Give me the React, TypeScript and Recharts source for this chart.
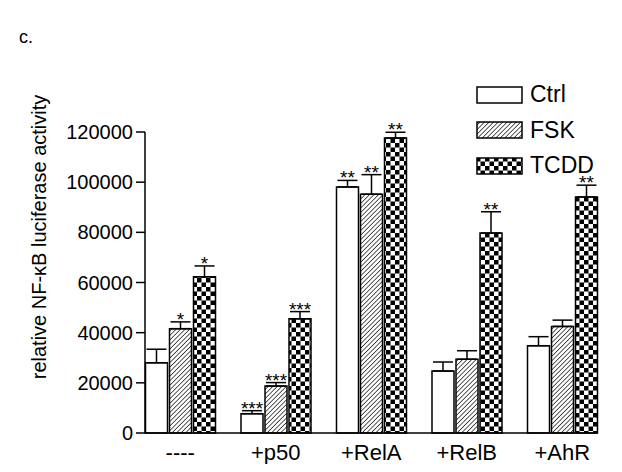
import { BarChart, Bar, XAxis, YAxis, ErrorBar, LabelList } from "recharts";

const groups = ["----", "+p50", "+RelA", "+RelB", "+AhR"];
const ctrl = [28000, 7700, 98100, 24700, 34800];
const ctrlErr = [5400, 1200, 2600, 3600, 3600];
const fsk = [41600, 18700, 95200, 29400, 42500];
const fskErr = [2700, 1400, 7800, 3400, 2500];
const tcdd = [62300, 45500, 117600, 79700, 94100];
const tcddErr = [4300, 2900, 2300, 8500, 4700];
const ctrlSig = ["", "***", "**", "", ""];
const fskSig = ["*", "***", "**", "", ""];
const tcddSig = ["*", "***", "**", "**", "**"];
const yTicks = [0, 20000, 40000, 60000, 80000, 100000, 120000];

const data = groups.map((g, i) => ({
  group: g,
  ctrl: ctrl[i],
  ctrlErr: [0, ctrlErr[i]],
  ctrlSig: ctrlSig[i],
  fsk: fsk[i],
  fskErr: [0, fskErr[i]],
  fskSig: fskSig[i],
  tcdd: tcdd[i],
  tcddErr: [0, tcddErr[i]],
  tcddSig: tcddSig[i],
}));

const FONT = "'Liberation Sans', Arial, sans-serif";

// stars sit above the error bar; height/value gives the scale's px per unit
const sigLabel = (vals: number[], errs: number[]) => (props: any) => {
  const vb = props.viewBox || props;
  const { x, y, width, height } = vb;
  const idx = props.index;
  const text = props.value;
  if (!text || idx == null) return null;
  const pxPerUnit = Math.abs(height) / vals[idx];
  const errTop = y - errs[idx] * pxPerUnit;
  return (
    <text x={x + width / 2} y={errTop + 4} textAnchor="middle" fontSize={19} fontFamily={FONT} fill="#000">
      {text}
    </text>
  );
};

const Patterns = ({ prefix }: { prefix: string }) => (
  <defs>
    <pattern id={`${prefix}hatch`} patternUnits="userSpaceOnUse" width={3.2} height={3.2} patternTransform="rotate(45)">
      <rect width={3.2} height={3.2} fill="#fff" />
      <line x1={0} y1={0} x2={0} y2={3.2} stroke="#000" strokeWidth={1.3} />
    </pattern>
    <pattern id={`${prefix}check`} patternUnits="userSpaceOnUse" width={9} height={9}>
      <rect width={9} height={9} fill="#fff" />
      <rect width={4.5} height={4.5} fill="#000" />
      <rect x={4.5} y={4.5} width={4.5} height={4.5} fill="#000" />
    </pattern>
  </defs>
);

const legendItems = [
  { name: "Ctrl", fill: "#fff" },
  { name: "FSK", fill: "url(#lghatch)" },
  { name: "TCDD", fill: "url(#lgcheck)" },
];

const App = () => {
  return (
    <div style={{ position: "relative", width: 606, height: 456, fontFamily: FONT }}>
      <div style={{ position: "absolute", left: 11, top: 19, fontSize: 18 }}>c.</div>
      <svg width={0} height={0} style={{ position: "absolute" }}>
        <Patterns prefix="lg" />
      </svg>
      <div style={{ position: "absolute", left: 468, top: 69 }}>
        {legendItems.map((it) => (
          <div key={it.name} style={{ display: "flex", alignItems: "center", height: 35.5 }}>
            <svg width={48} height={18} style={{ marginRight: 6 }}>
              <rect x={1} y={1} width={45} height={16} fill={it.fill} stroke="#000" strokeWidth={1.5} />
            </svg>
            <span style={{ fontSize: 23, color: "#000" }}>{it.name}</span>
          </div>
        ))}
      </div>
      <BarChart
        width={606}
        height={456}
        data={data}
        margin={{ top: 124, right: 17, bottom: 0, left: 0 }}
        barCategoryGap={13}
        barGap={2}
      >
        <Patterns prefix="ch" />
        <XAxis
          dataKey="group"
          height={31}
          padding={{ left: -12.5, right: -13 }}
          axisLine={{ stroke: "#000", strokeWidth: 1.5 }}
          tickLine={false}
          tickSize={6}
          tickMargin={5}
          tick={{ fontSize: 22, fill: "#000", fontFamily: FONT }}
        />
        <YAxis
          width={137}
          domain={[0, 120000]}
          ticks={yTicks}
          interval={0}
          axisLine={{ stroke: "#000", strokeWidth: 1.5 }}
          tickLine={{ stroke: "#000", strokeWidth: 1.5 }}
          tickSize={9}
          tickMargin={3}
          tick={{ fontSize: 20, fill: "#000", fontFamily: FONT }}
          label={{
            content: () => (
              <text
                x={0}
                y={0}
                transform="translate(38, 229) rotate(-90)"
                textAnchor="middle"
                fontSize={20}
                fontFamily={FONT}
                fill="#000"
              >
                relative NF-κB luciferase activity
              </text>
            ),
          }}
        />
        <Bar dataKey="ctrl" fill="#fff" stroke="#000" strokeWidth={1.5} isAnimationActive={false}>
          <ErrorBar dataKey="ctrlErr" width={10} stroke="#000" strokeWidth={1.5} direction="y" />
          <LabelList dataKey="ctrlSig" content={sigLabel(ctrl, ctrlErr)} />
        </Bar>
        <Bar dataKey="fsk" fill="url(#chhatch)" stroke="#000" strokeWidth={1.5} isAnimationActive={false}>
          <ErrorBar dataKey="fskErr" width={10} stroke="#000" strokeWidth={1.5} direction="y" />
          <LabelList dataKey="fskSig" content={sigLabel(fsk, fskErr)} />
        </Bar>
        <Bar dataKey="tcdd" fill="url(#chcheck)" stroke="#000" strokeWidth={1.5} isAnimationActive={false}>
          <ErrorBar dataKey="tcddErr" width={10} stroke="#000" strokeWidth={1.5} direction="y" />
          <LabelList dataKey="tcddSig" content={sigLabel(tcdd, tcddErr)} />
        </Bar>
      </BarChart>
    </div>
  );
};

export default App;
